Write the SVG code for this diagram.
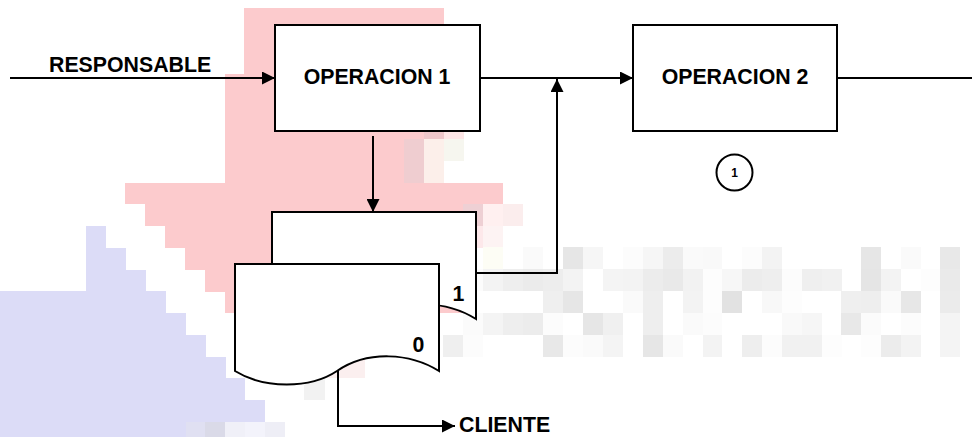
<svg xmlns="http://www.w3.org/2000/svg" width="972" height="437" viewBox="0 0 972 437">
<style>
.ln{fill:none;stroke:#000;stroke-width:2}
.box{fill:#fff;stroke:#000;stroke-width:2}
.t{font-family:"Liberation Sans",Arial,sans-serif;font-weight:bold;font-size:21.3px;fill:#000}
.c{text-anchor:middle}
</style>
<defs>
<marker id="ah" markerUnits="userSpaceOnUse" markerWidth="13" markerHeight="13" refX="13" refY="6.5" orient="auto">
<path d="M0,0 L13,6.5 L0,13 Z" fill="#000"/>
</marker>
<path id="docshape" d="M235,264 H439 V371 C410,353 368,350 337,371 C310,389 264,389 235,371 Z"/>
</defs>
<rect width="972" height="437" fill="#fff"/>
<g id="background">
<path d="M244,8 H444 V117 H424 V139 H404 V183 H503 V204 H463 V313 H225 V292 H205 V270 H185 V248 H165 V226 H145 V204 H125 V183 H225 V74 H244 Z" fill="#fccbcd"/>
<rect x="424" y="117" width="20" height="22" fill="#eec7ca"/>
<rect x="444" y="117" width="20" height="22" fill="#fde6e6"/>
<rect x="404" y="139" width="20" height="44" fill="#efcdd0"/>
<rect x="424" y="139" width="20" height="44" fill="#fcefea"/>
<rect x="444" y="139" width="20" height="22" fill="#f6f6ef"/>
<rect x="463" y="204" width="20" height="22" fill="#eed0d4"/>
<rect x="483" y="204" width="20" height="22" fill="#fff0f0"/>
<rect x="503" y="204" width="20" height="22" fill="#fbeded"/>
<rect x="463" y="226" width="20" height="22" fill="#fde8ea"/>
<rect x="483" y="226" width="20" height="22" fill="#fdf3f3"/>
<rect x="483" y="248" width="20" height="22" fill="#fffdf6"/>
<path d="M86,226 H106 V248 H126 V270 H146 V291 H166 V313 H186 V335 H206 V357 H226 V378 H245 V400 H265 V422 H186 V437 H0 V291 H86 Z" fill="#dcdcf7"/>
<rect x="186" y="422" width="19" height="15" fill="#e0e0f2"/>
<rect x="205" y="422" width="20" height="15" fill="#dadae8"/>
<rect x="225" y="422" width="20" height="15" fill="#f0f0f8"/>
<rect x="245" y="422" width="20" height="15" fill="#f3f3fb"/>
<rect x="265" y="422" width="20" height="15" fill="#eeeef6"/>
<rect x="304" y="378" width="21" height="22" fill="#f2f2f2"/>
<rect x="325" y="357" width="40" height="21" fill="#fbefef"/>
<g id="noise">
<rect x="483" y="247" width="20" height="22" fill="#fdfdf5"/>
<rect x="523" y="247" width="20" height="22" fill="#fafafa"/>
<rect x="563" y="247" width="20" height="22" fill="#e6e6e6"/>
<rect x="583" y="247" width="20" height="22" fill="#f6f6f6"/>
<rect x="623" y="247" width="20" height="22" fill="#fcfcfc"/>
<rect x="643" y="247" width="20" height="22" fill="#f6f6f6"/>
<rect x="663" y="247" width="20" height="22" fill="#ececec"/>
<rect x="683" y="247" width="20" height="22" fill="#fafafa"/>
<rect x="703" y="247" width="19" height="22" fill="#f9f9f9"/>
<rect x="742" y="247" width="20" height="22" fill="#fcfcfc"/>
<rect x="762" y="247" width="20" height="22" fill="#f3f3f3"/>
<rect x="861" y="247" width="20" height="22" fill="#e6e6e6"/>
<rect x="901" y="247" width="20" height="22" fill="#fafafa"/>
<rect x="940" y="247" width="20" height="22" fill="#e8e8e8"/>

<rect x="463" y="269" width="20" height="22" fill="#fcfcfc"/>
<rect x="483" y="269" width="20" height="22" fill="#f3f3f3"/>
<rect x="503" y="269" width="20" height="22" fill="#eeeeee"/>
<rect x="523" y="269" width="20" height="22" fill="#ebebeb"/>
<rect x="543" y="269" width="20" height="22" fill="#ededed"/>
<rect x="563" y="269" width="20" height="22" fill="#f3f3f3"/>
<rect x="603" y="269" width="20" height="22" fill="#f4f4f4"/>
<rect x="623" y="269" width="20" height="22" fill="#f3f3f3"/>
<rect x="643" y="269" width="20" height="22" fill="#ececec"/>
<rect x="663" y="269" width="20" height="22" fill="#e9e9e9"/>
<rect x="683" y="269" width="20" height="22" fill="#f2f2f2"/>
<rect x="703" y="269" width="19" height="22" fill="#fdfdfd"/>
<rect x="722" y="269" width="20" height="22" fill="#f7f7f7"/>
<rect x="742" y="269" width="20" height="22" fill="#ececec"/>
<rect x="762" y="269" width="20" height="22" fill="#eeeeee"/>
<rect x="782" y="269" width="20" height="22" fill="#fcfcfc"/>
<rect x="802" y="269" width="20" height="22" fill="#efefef"/>
<rect x="822" y="269" width="20" height="22" fill="#f1f1f1"/>
<rect x="861" y="269" width="20" height="22" fill="#e5e5e5"/>
<rect x="881" y="269" width="20" height="22" fill="#f3f3f3"/>
<rect x="921" y="269" width="19" height="22" fill="#fdfdfd"/>
<rect x="940" y="269" width="20" height="22" fill="#eaeaea"/>

<rect x="543" y="291" width="20" height="22" fill="#efefef"/>
<rect x="563" y="291" width="20" height="22" fill="#e6e6e6"/>
<rect x="623" y="291" width="20" height="22" fill="#fafafa"/>
<rect x="643" y="291" width="20" height="22" fill="#eeeeee"/>
<rect x="683" y="291" width="20" height="22" fill="#f3f3f3"/>
<rect x="703" y="291" width="19" height="22" fill="#fdfdfd"/>
<rect x="722" y="291" width="20" height="22" fill="#e2e2e2"/>
<rect x="762" y="291" width="20" height="22" fill="#f8f8f8"/>
<rect x="782" y="291" width="20" height="22" fill="#fdfdfd"/>
<rect x="841" y="291" width="20" height="22" fill="#efefef"/>
<rect x="861" y="291" width="20" height="22" fill="#eeeeee"/>
<rect x="881" y="291" width="20" height="22" fill="#fafafa"/>
<rect x="901" y="291" width="20" height="22" fill="#e7e7e7"/>
<rect x="940" y="291" width="20" height="22" fill="#ebebeb"/>

<rect x="463" y="313" width="20" height="22" fill="#fbfbfb"/>
<rect x="483" y="313" width="20" height="22" fill="#f4f4f4"/>
<rect x="503" y="313" width="20" height="22" fill="#eeeeee"/>
<rect x="523" y="313" width="20" height="22" fill="#ececec"/>
<rect x="543" y="313" width="20" height="22" fill="#fcfcfc"/>
<rect x="583" y="313" width="20" height="22" fill="#e6e6e6"/>
<rect x="603" y="313" width="20" height="22" fill="#f0f0f0"/>
<rect x="643" y="313" width="20" height="22" fill="#eeeeee"/>
<rect x="683" y="313" width="20" height="22" fill="#fafafa"/>
<rect x="703" y="313" width="19" height="22" fill="#fcfcfc"/>
<rect x="782" y="313" width="20" height="22" fill="#f9f9f9"/>
<rect x="802" y="313" width="20" height="22" fill="#f6f6f6"/>
<rect x="841" y="313" width="20" height="22" fill="#e8e8e8"/>
<rect x="861" y="313" width="20" height="22" fill="#fbfbfb"/>
<rect x="901" y="313" width="20" height="22" fill="#fcfcfc"/>
<rect x="940" y="313" width="20" height="22" fill="#f4f4f4"/>

<rect x="443" y="335" width="20" height="22" fill="#efefef"/>
<rect x="463" y="335" width="20" height="22" fill="#fcfcfc"/>
<rect x="543" y="335" width="20" height="22" fill="#e8e8e8"/>
<rect x="563" y="335" width="20" height="22" fill="#fcfcfc"/>
<rect x="583" y="335" width="20" height="22" fill="#fafafa"/>
<rect x="603" y="335" width="20" height="22" fill="#f4f4f4"/>
<rect x="643" y="335" width="20" height="22" fill="#e6e6e6"/>
<rect x="663" y="335" width="20" height="22" fill="#fafafa"/>
<rect x="703" y="335" width="19" height="22" fill="#f3f3f3"/>
<rect x="742" y="335" width="20" height="22" fill="#eeeeee"/>
<rect x="762" y="335" width="20" height="22" fill="#fcfcfc"/>
<rect x="782" y="335" width="20" height="22" fill="#f1f1f1"/>
<rect x="802" y="335" width="20" height="22" fill="#f1f1f1"/>
<rect x="822" y="335" width="20" height="22" fill="#fdfdfd"/>
<rect x="861" y="335" width="20" height="22" fill="#fdfdfd"/>
<rect x="881" y="335" width="20" height="22" fill="#ececec"/>
<rect x="901" y="335" width="20" height="22" fill="#f3f3f3"/>
<rect x="940" y="335" width="20" height="22" fill="#f4f4f4"/>
</g>
</g>
<g id="connectors">
<path class="ln" d="M10,78 H275" marker-end="url(#ah)"/>
<path class="ln" d="M480,78 H633" marker-end="url(#ah)"/>
<path class="ln" d="M837,78 H972"/>
<path class="ln" d="M373,136 V212" marker-end="url(#ah)"/>
<path class="ln" d="M476,273 H557 V79" marker-end="url(#ah)"/>
<path class="ln" d="M338,371 V426 H455" marker-end="url(#ah)"/>
</g>
<g id="responsable-label"><text class="t" x="49" y="72">RESPONSABLE</text></g>
<g id="operacion1">
<rect class="box" x="275" y="25" width="205" height="106"/>
<text class="t c" x="377" y="84">OPERACION 1</text>
</g>
<g id="operacion2">
<rect class="box" x="633" y="25" width="204" height="106"/>
<text class="t c" x="735" y="84">OPERACION 2</text>
</g>
<g id="circle1">
<circle cx="734.5" cy="172.5" r="18" fill="#fff" stroke="#000" stroke-width="2"/>
<text x="734.5" y="177" text-anchor="middle" style="font-family:'Liberation Sans',Arial,sans-serif;font-weight:bold;font-size:12px">1</text>
</g>
<g id="doc1">
<use href="#docshape" class="box" transform="translate(37,-52)"/>
<text class="t c" x="458.5" y="301">1</text>
</g>
<g id="doc0">
<use href="#docshape" class="box"/>
<text class="t c" x="418.5" y="352">0</text>
</g>
<g id="cliente-label"><text class="t" x="459" y="432">CLIENTE</text></g>
</svg>
